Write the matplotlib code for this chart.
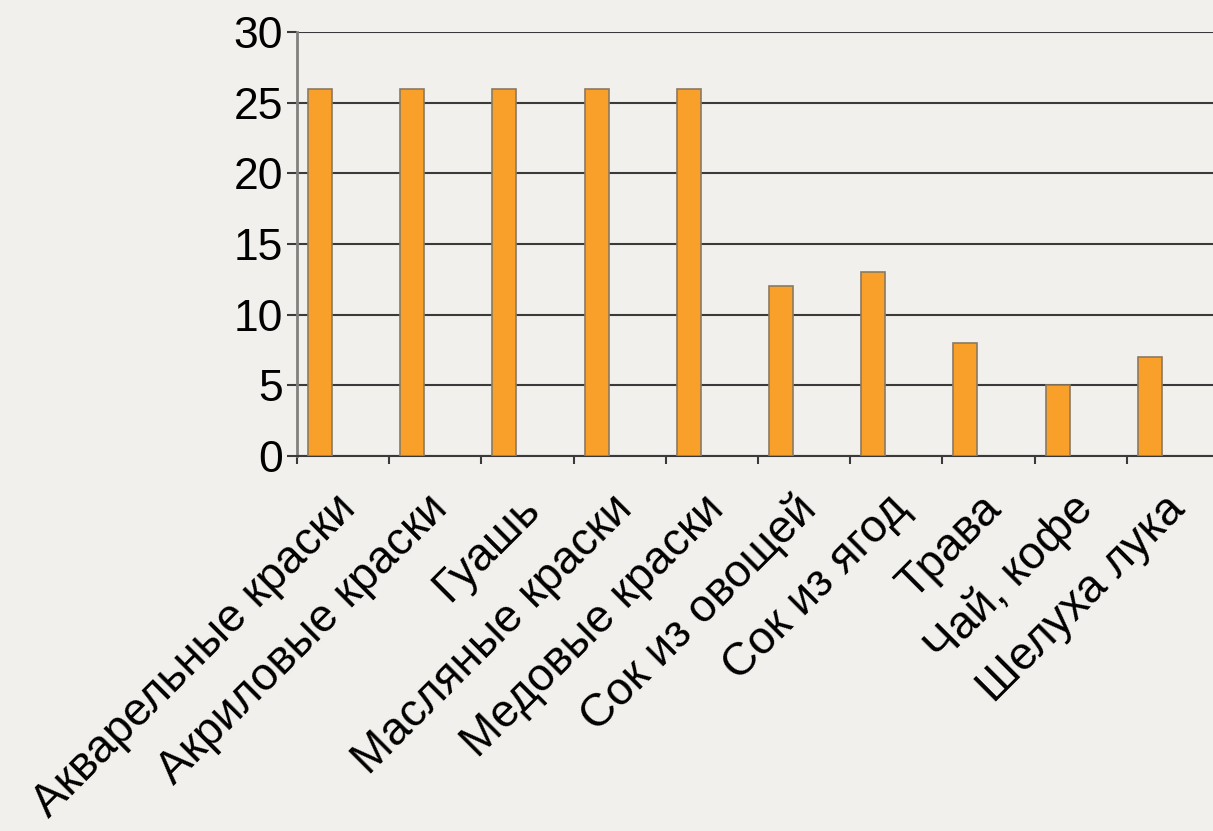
import numpy as np
import matplotlib.pyplot as plt
from matplotlib.transforms import ScaledTranslation

categories = ["Акварельные краски", "Акриловые краски", "Гуашь", "Масляные краски",
              "Медовые краски", "Сок из овощей", "Сок из ягод", "Трава", "Чай, кофе",
              "Шелуха лука"]
values = [26, 26, 26, 26, 26, 12, 13, 8, 5, 7]
y_ticks = [0, 5, 10, 15, 20, 25, 30]

plt.rcParams['font.family'] = ['Liberation Sans', 'DejaVu Sans']

bg = '#f1f0ec'
fig = plt.figure(figsize=(12.13, 8.31), dpi=100, facecolor=bg)
ax = fig.add_axes([297 / 1213, (831 - 456) / 831, 922 / 1213, (456 - 32) / 831])
ax.set_facecolor(bg)

x = np.arange(len(categories))
ax.bar(x - 0.25, values, width=0.26, color='#f9a02a', edgecolor='#8a7a62',
       linewidth=1.2, zorder=3)

ax.set_xlim(-0.5, len(categories) - 0.5)
ax.set_ylim(0, 30)
ax.set_yticks(y_ticks)
ax.yaxis.grid(True, color='#3a3a3a', linewidth=1.5, zorder=1)
ax.tick_params(axis='y', length=7, width=1.5, color='#3a3a3a', pad=3, labelsize=32)

# category boundaries as ticks, labels at centres
ax.set_xticks(np.arange(len(categories) + 1) - 0.5)
ax.set_xticklabels([])
ax.set_xticks(x, minor=True)
ax.set_xticklabels(categories, minor=True, rotation=45, ha='right', va='top',
                   rotation_mode='anchor', fontsize=33)
ax.tick_params(axis='x', which='minor', length=0, pad=22)
ax.tick_params(axis='x', which='major', length=6, width=1.5, color='#3a3a3a')
shift = ScaledTranslation(-10 / 100, 0, fig.dpi_scale_trans)
for lbl in ax.get_xticklabels(minor=True):
    lbl.set_transform(lbl.get_transform() + shift)

for s in ['top', 'right']:
    ax.spines[s].set_visible(False)
ax.spines['left'].set_color('#808080')
ax.spines['left'].set_linewidth(2)
ax.spines['bottom'].set_color('#3a3a3a')
ax.spines['bottom'].set_linewidth(1.5)

fig.savefig('out.png', dpi=100, facecolor=bg)
